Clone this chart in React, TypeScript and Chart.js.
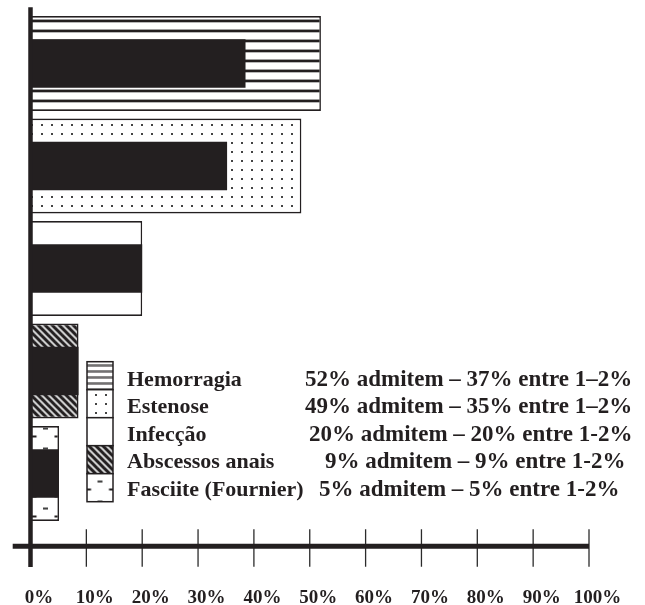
import React, { useEffect, useRef } from 'react';
import { Chart, registerables } from 'chart.js';

Chart.register(...registerables);

// ---- data ----
const categories = ['Hemorragia', 'Estenose', 'Infecção', 'Abscessos anais', 'Fasciite (Fournier)'];
const admitem = [52, 48.5, 20, 8.6, 5.1];
const entre12 = [38.5, 35.2, 20, 8.6, 5.1];
const legendTexts = [
  '52% admitem – 37% entre 1–2%',
  '49% admitem – 35% entre 1–2%',
  '20% admitem – 20% entre 1-2%',
  '9% admitem – 9% entre 1-2%',
  '5% admitem – 5% entre 1-2%',
];
const tickValues = [0, 10, 20, 30, 40, 50, 60, 70, 80, 90, 100];

const INK = '#231f20';
const SERIF = '"Liberation Serif", "Times New Roman", serif';

function makeTile(w: number, h: number, draw: (g: CanvasRenderingContext2D) => void) {
  const c = document.createElement('canvas');
  c.width = w;
  c.height = h;
  const g = c.getContext('2d')!;
  g.fillStyle = '#ffffff';
  g.fillRect(0, 0, w, h);
  draw(g);
  return c;
}

function tiles() {
  const stripes = makeTile(10, 10, (g) => {
    g.fillStyle = '#a0a0a0';
    g.fillRect(0, 9, 10, 1);
    g.fillStyle = INK;
    g.fillRect(0, 0, 10, 2);
    g.fillStyle = '#b8b8b8';
    g.fillRect(0, 2, 10, 1);
  });
  const legendStripes = makeTile(10, 6, (g) => {
    g.fillStyle = '#8a8a8a';
    g.fillRect(0, 0, 10, 1.5);
    g.fillStyle = INK;
    g.fillRect(0, 1.5, 10, 1);
  });
  const dots = makeTile(10, 9, (g) => {
    g.fillStyle = '#444';
    g.fillRect(1, 7, 2, 2);
  });
  const diag = makeTile(7, 7, (g) => {
    const draw = (w: number, col: string) => {
      g.strokeStyle = col;
      g.lineWidth = w;
      for (let k = -2; k <= 2; k++) {
        g.beginPath();
        g.moveTo(k * 7 - 7, -7);
        g.lineTo(k * 7 + 14, 14);
        g.stroke();
      }
    };
    draw(4.2, '#9a9a9a');
    draw(2.6, INK);
  });
  const dash = makeTile(23, 20, (g) => {
    g.fillStyle = '#444';
    g.fillRect(9, 0, 5, 2);
    g.fillStyle = INK;
    g.fillRect(0, 8, 2.5, 2);
    g.fillRect(20.5, 8, 2.5, 2);
  });
  return { stripes, legendStripes, dots, diag, dash };
}

function pat(ctx: CanvasRenderingContext2D, tile: HTMLCanvasElement | null, dx = 0, dy = 0): any {
  if (!tile) return '#ffffff';
  const p = ctx.createPattern(tile, 'repeat')!;
  if (p && (p as any).setTransform) (p as any).setTransform(new DOMMatrix().translate(dx, dy));
  return p;
}

export default function App() {
  const ref = useRef<HTMLCanvasElement>(null);

  useEffect(() => {
    const canvas = ref.current!;
    const ctx = canvas.getContext('2d')!;
    const t = tiles();

    const barFills = [
      pat(ctx, t.stripes),
      pat(ctx, t.dots),
      '#ffffff',
      pat(ctx, t.diag),
      pat(ctx, t.dash, 34, 427.5),
    ];
    const legendFills = [
      pat(ctx, t.legendStripes, 0, 4),
      pat(ctx, t.dots, 4, 0),
      '#ffffff',
      pat(ctx, t.diag),
      pat(ctx, t.dash, 88.5, 480.5),
    ];

    const refPlugin = {
      id: 'refDecor',
      afterDatasetsDraw(chart: any) {
        const c = chart.ctx as CanvasRenderingContext2D;
        const xs = chart.scales.x;
        const area = chart.chartArea;
        const x0 = xs.getPixelForValue(0);
        const x100 = xs.getPixelForValue(100);
        const axisY = area.bottom + 21.5;
        const line = (a: number, b: number, cc: number, d: number) => {
          c.beginPath();
          c.moveTo(a, b);
          c.lineTo(cc, d);
          c.stroke();
        };
        c.save();
        c.strokeStyle = '#2b2b2b';
        c.lineWidth = 1.3;
        tickValues.forEach((v) => {
          const px = xs.getPixelForValue(v);
          line(px, axisY - 17, px, axisY + 20.5);
        });
        c.strokeStyle = INK;
        c.lineWidth = 5;
        line(12.7, axisY, x100, axisY);
        c.lineWidth = 4.5;
        line(x0, 7.3, x0, axisY + 20.7);

        // legend
        const bx = 87, bw = 26, by = 361.7, bh = 28;
        categories.forEach((name, i) => {
          const y = by + i * bh;
          c.fillStyle = legendFills[i];
          c.fillRect(bx, y, bw, bh);
          c.lineWidth = 1.5;
          c.strokeStyle = INK;
          c.strokeRect(bx, y, bw, bh);
        });
        c.fillStyle = INK;
        c.textBaseline = 'alphabetic';
        c.textAlign = 'left';
        const baselines = [386, 413.3, 440.7, 468.3, 496];
        const valueX = [305, 305, 309, 325, 319];
        categories.forEach((name, i) => {
          c.font = `bold 22px ${SERIF}`;
          c.fillText(name, 127, baselines[i]);
          c.font = `bold 23px ${SERIF}`;
          c.fillText(legendTexts[i], valueX[i], baselines[i]);
        });
        c.restore();
      },
    };

    const chart = new Chart(canvas, {
      type: 'bar',
      data: {
        labels: categories,
        datasets: [
          {
            label: 'entre 1–2%',
            data: entre12,
            backgroundColor: INK,
            borderWidth: 0,
            grouped: false,
            barPercentage: 0.472,
            categoryPercentage: 1,
            order: 0,
          } as any,
          {
            label: 'admitem',
            data: admitem,
            backgroundColor: barFills,
            borderColor: INK,
            borderWidth: 1.6,
            grouped: false,
            barPercentage: 0.925,
            categoryPercentage: 1,
            order: 1,
          } as any,
        ],
      },
      options: {
        indexAxis: 'y',
        responsive: false,
        devicePixelRatio: 1,
        animation: false,
        layout: { padding: { left: 30.5, right: 56, top: 12.25, bottom: 0 } },
        plugins: { legend: { display: false }, tooltip: { enabled: false } },
        scales: {
          y: { type: 'category', display: false, offset: true },
          x: {
            type: 'linear',
            min: 0,
            max: 100,
            position: 'bottom',
            grid: {
              display: true,
              drawOnChartArea: false,
              drawTicks: true,
              tickLength: 62,
              color: 'rgba(0,0,0,0)',
            },
            border: { display: false },
            ticks: {
              stepSize: 10,
              autoSkip: false,
              maxRotation: 0,
              padding: 0,
              labelOffset: 8.5,
              color: INK,
              font: { family: SERIF, size: 19, weight: 'bold' },
              callback: (v: any) => `${v}%`,
            },
            afterFit: (s: any) => {
              s.height = 80.25;
              s.paddingLeft = 0;
              s.paddingRight = 0;
            },
          },
        },
      } as any,
      plugins: [refPlugin],
    });
    return () => chart.destroy();
  }, []);

  return (
    <div style={{ position: 'fixed', left: 0, top: 0, width: 645, height: 605, background: '#fff' }}>
      <canvas ref={ref} width={645} height={605} style={{ display: 'block', width: 645, height: 605 }} />
    </div>
  );
}
